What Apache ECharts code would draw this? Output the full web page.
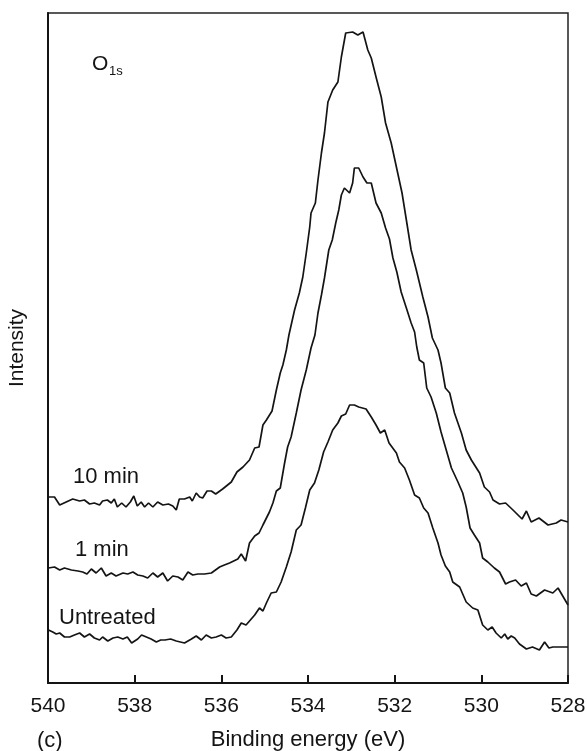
<!DOCTYPE html>
<html>
<head>
<meta charset="utf-8">
<script src="https://cdn.jsdelivr.net/npm/echarts@6/dist/echarts.min.js"></script>
<style>
  html, body { margin: 0; padding: 0; background: #fff; }
  #chart { width: 587px; height: 751px; }
</style>
</head>
<body>
<div id="chart"></div>
<script>
// O 1s XPS spectra, [binding energy (eV), intensity (arb. units)]
const tenMin = [
  [539.99,186],[539.85,186],[539.73,178],[539.58,181],[539.43,184],[539.27,182],[539.16,183],[539.04,179],
  [538.93,180],[538.81,178],[538.74,182],[538.63,183],[538.54,180],[538.47,184],[538.40,176],[538.30,180],
  [538.20,176],[538.10,181],[538.02,187],[537.94,177],[537.85,181],[537.77,176],[537.68,180],[537.58,176],
  [537.47,181],[537.35,178],[537.22,179],[537.12,177],[537.04,173],[536.97,184],[536.85,184],[536.73,186],
  [536.67,182],[536.58,190],[536.50,186],[536.43,185],[536.33,192],[536.23,192],[536.13,189],[535.97,194],
  [535.77,201],[535.64,211],[535.50,216],[535.35,223],[535.23,235],[535.13,236],[535.04,258],[534.96,263],
  [534.83,272],[534.73,293],[534.64,310],[534.58,318],[534.50,333],[534.44,348],[534.31,373],[534.20,390],
  [534.12,406],[534.04,430],[533.96,456],[533.93,470],[533.83,480],[533.77,503],[533.69,530],[533.62,550],
  [533.54,581],[533.43,593],[533.31,601],[533.23,626],[533.13,650],[532.97,651],[532.85,648],[532.73,651],
  [532.62,633],[532.54,625],[532.43,606],[532.31,586],[532.21,560],[532.08,540],[531.96,516],[531.83,490],
  [531.73,463],[531.62,433],[531.50,413],[531.35,386],[531.23,366],[531.13,345],[531.00,333],[530.93,320],
  [530.83,295],[530.73,290],[530.62,270],[530.46,250],[530.35,233],[530.23,223],[530.04,210],[529.93,196],
  [529.81,191],[529.73,183],[529.58,179],[529.44,180],[529.27,173],[529.06,164],[528.96,172],[528.85,161],
  [528.67,165],[528.46,158],[528.27,160],[528.16,163],[528.00,161]
];

const oneMin = [
  [539.99,115],[539.85,116],[539.73,113],[539.62,115],[539.46,113],[539.31,112],[539.20,111],[539.10,109],
  [539.00,114],[538.89,110],[538.77,115],[538.66,107],[538.54,110],[538.43,107],[538.27,110],[538.16,109],
  [538.04,111],[537.93,108],[537.81,107],[537.70,105],[537.58,110],[537.47,106],[537.35,110],[537.24,102],
  [537.12,107],[537.00,106],[536.89,103],[536.77,111],[536.66,108],[536.54,109],[536.39,109],[536.23,110],
  [536.04,116],[535.93,118],[535.81,120],[535.62,124],[535.54,129],[535.44,122],[535.35,140],[535.23,147],
  [535.13,150],[535.04,158],[534.89,171],[534.81,180],[534.73,192],[534.64,195],[534.54,220],[534.47,236],
  [534.39,246],[534.27,270],[534.16,293],[534.04,313],[533.93,335],[533.84,348],[533.77,370],[533.69,388],
  [533.62,405],[533.52,433],[533.44,443],[533.36,460],[533.29,473],[533.23,488],[533.16,495],[533.04,490],
  [532.97,500],[532.93,515],[532.83,515],[532.73,506],[532.64,500],[532.54,500],[532.43,480],[532.31,470],
  [532.21,455],[532.12,444],[532.04,425],[531.95,411],[531.85,391],[531.73,375],[531.62,360],[531.54,351],
  [531.49,336],[531.43,323],[531.33,320],[531.26,295],[531.16,286],[531.04,270],[530.93,251],[530.81,233],
  [530.69,215],[530.54,201],[530.43,190],[530.35,176],[530.26,155],[530.16,148],[530.04,140],[529.97,125],
  [529.85,121],[529.70,115],[529.58,111],[529.44,99],[529.35,101],[529.21,103],[529.08,97],[528.96,100],
  [528.85,89],[528.73,87],[528.54,93],[528.35,90],[528.23,95],[528.00,78]
];

const untreated = [
  [539.99,53],[539.89,51],[539.81,49],[539.73,50],[539.62,46],[539.50,46],[539.39,48],[539.27,50],
  [539.16,46],[539.04,49],[538.93,45],[538.81,43],[538.74,46],[538.62,42],[538.50,45],[538.39,46],
  [538.27,44],[538.17,46],[538.07,40],[537.93,44],[537.84,48],[537.73,46],[537.62,44],[537.50,41],
  [537.40,43],[537.30,43],[537.17,44],[537.04,42],[536.85,40],[536.69,44],[536.58,47],[536.46,43],
  [536.35,48],[536.23,45],[536.12,46],[536.00,48],[535.89,45],[535.77,46],[535.64,53],[535.54,60],
  [535.43,58],[535.31,64],[535.23,68],[535.12,75],[535.04,72],[534.96,80],[534.85,90],[534.73,91],
  [534.62,101],[534.50,116],[534.39,131],[534.27,153],[534.16,158],[534.06,175],[533.96,193],[533.85,200],
  [533.75,213],[533.64,231],[533.54,241],[533.43,253],[533.31,260],[533.23,267],[533.13,269],[533.04,278],
  [532.93,278],[532.83,276],[532.66,274],[532.54,266],[532.43,258],[532.33,250],[532.23,253],[532.13,240],
  [531.96,230],[531.89,221],[531.77,215],[531.66,203],[531.54,188],[531.43,185],[531.33,175],[531.23,170],
  [531.12,155],[531.00,140],[530.93,128],[530.83,117],[530.73,111],[530.66,101],[530.50,96],[530.35,81],
  [530.20,75],[530.08,73],[529.97,58],[529.85,53],[529.75,56],[529.66,50],[529.54,45],[529.46,49],
  [529.39,44],[529.31,47],[529.23,45],[529.12,39],[528.96,34],[528.82,36],[528.66,33],[528.54,41],
  [528.44,35],[528.35,36],[528.00,36]
];

const seriesNames = ['10 min', '1 min', 'Untreated'];
const energyTicks = [540, 538, 536, 534, 532, 530, 528];

const FONT = '"Liberation Sans", Arial, Helvetica, sans-serif';
const INK = '#141414';

const chart = echarts.init(document.getElementById('chart'), null, { renderer: 'canvas' });

function spectrum(name, data) {
  return {
    name: name,
    type: 'line',
    data: data,
    showSymbol: false,
    smooth: false,
    animation: false,
    lineStyle: { color: INK, width: 1.7 },
    emphasis: { disabled: true }
  };
}

function label(text, x, y, size) {
  return {
    type: 'text', x: x, y: y, silent: true,
    style: { text: text, fill: INK, fontFamily: FONT, fontSize: size, verticalAlign: 'middle', align: 'left' }
  };
}

chart.setOption({
  backgroundColor: '#ffffff',
  animation: false,
  grid: {
    left: 48, right: 19, top: 13, bottom: 68,
    containLabel: false,
    outerBoundsMode: 'none',
    show: true, borderColor: '#222', borderWidth: 1.5, backgroundColor: 'transparent'
  },
  xAxis: {
    type: 'value',
    min: 528, max: 540, interval: 2,
    inverse: true,
    axisLine: { show: true, lineStyle: { color: INK, width: 2 } },
    axisTick: { show: true, inside: true, length: 8, lineStyle: { color: INK, width: 2 } },
    splitLine: { show: false },
    axisLabel: {
      color: INK, fontFamily: FONT, fontSize: 21, margin: 13,
      formatter: v => energyTicks.includes(v) ? String(v) : ''
    },
    name: 'Binding energy (eV)',
    nameLocation: 'middle',
    nameGap: 46,
    nameTextStyle: { color: INK, fontFamily: FONT, fontSize: 22 }
  },
  yAxis: {
    type: 'value',
    min: 0, max: 670,
    axisLine: { show: true, lineStyle: { color: INK, width: 2 } },
    axisTick: { show: false },
    axisLabel: { show: false },
    splitLine: { show: false },
    name: 'Intensity',
    nameLocation: 'middle',
    nameRotate: 90,
    nameGap: 20,
    nameTextStyle: { color: INK, fontFamily: FONT, fontSize: 21 }
  },
  series: [
    spectrum(seriesNames[0], tenMin),
    spectrum(seriesNames[1], oneMin),
    spectrum(seriesNames[2], untreated)
  ],
  graphic: [
    label('O', 92, 64, 21),
    label('1s', 109, 71, 13),
    label(seriesNames[0], 73, 477, 22),
    label(seriesNames[1], 75, 550, 22),
    label(seriesNames[2], 59, 618, 22),
    label('(c)', 37, 741, 22)
  ]
});
</script>
</body>
</html>
